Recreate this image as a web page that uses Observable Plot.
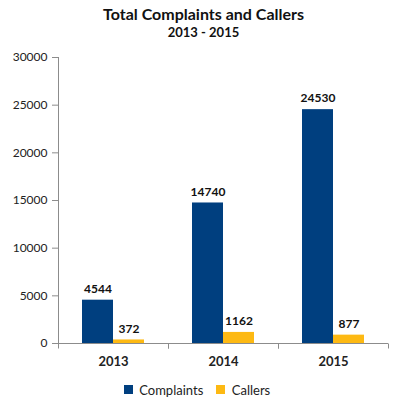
<!DOCTYPE html>
<html>
<head>
<meta charset="utf-8">
<script src="https://cdn.jsdelivr.net/npm/d3@7"></script>
<script src="https://cdn.jsdelivr.net/npm/@observablehq/plot@0.6"></script>
<style>
  body { margin: 0; background: #fff; font-family: Lato, "Open Sans", sans-serif; width: 407px; }
  #title { padding-top: 5px; text-align: center; font-weight: bold; font-size: 16px; line-height: 18px; color: #111; }
  #subtitle { text-align: center; font-weight: bold; font-size: 13px; line-height: 18px; color: #111; margin-bottom: 3px; }
  #legend { display: flex; justify-content: center; margin-top: 0px; }
  #legend > * { margin: 0 !important; }
</style>
</head>
<body>
<div id="title">Total Complaints and Callers</div>
<div id="subtitle">2013 - 2015</div>
<div id="chart"></div>
<div id="legend"></div>
<script>
const years = ["2013", "2014", "2015"];
const series = ["Complaints", "Callers"];
const complaints = [4544, 14740, 24530];
const callers = [372, 1162, 877];
const colors = ["#003f7f", "#fdb913"];
const yTicks = [0, 5000, 10000, 15000, 20000, 25000, 30000];

const data = years.flatMap((y, i) => [
  {year: y, series: series[0], value: complaints[i]},
  {year: y, series: series[1], value: callers[i]}
]);

const axisGray = "#8c8c8c";

const chart = Plot.plot({
  width: 407,
  height: 329,
  marginLeft: 57,
  marginRight: 18,
  marginTop: 13,
  marginBottom: 30,
  style: {fontFamily: "Lato, 'Open Sans', sans-serif", fontSize: "12px", color: "#222", overflow: "visible"},
  fx: {domain: years, padding: 0, label: null},
  x: {domain: series, paddingInner: 0, paddingOuter: 0.76, axis: null},
  y: {domain: [0, 30000], label: null},
  color: {domain: series, range: colors},
  marks: [
    Plot.frame({anchor: "left", facetAnchor: "left", stroke: axisGray}),
    Plot.ruleY([0], {
      stroke: axisGray,
      render: (index, scales, values, dims, ctx, next) => {
        const g = next(index, scales, values, dims, ctx);
        const y0 = scales.y(0);
        for (const xx of [dims.marginLeft, dims.width - dims.marginRight]) {
          const l = document.createElementNS("http://www.w3.org/2000/svg", "line");
          l.setAttribute("x1", xx + 0.5); l.setAttribute("x2", xx + 0.5);
          l.setAttribute("y1", y0); l.setAttribute("y2", y0 + 5);
          l.setAttribute("stroke", axisGray);
          g.appendChild(l);
        }
        return g;
      }
    }),
    Plot.barY(data, {fx: "year", x: "series", y: "value", fill: "series"}),
    Plot.text(data, {fx: "year", x: "series", y: "value", text: d => String(d.value), dy: -11, fontWeight: "bold", fontSize: 12, fill: "#111"}),
    Plot.axisY({ticks: yTicks, tickFormat: "d", tickSize: 6, tickPadding: 5, stroke: axisGray, fontSize: 12, label: null}),
    Plot.axisFx({anchor: "bottom", tickSize: 0, tickPadding: 13, fontWeight: "bold", fontSize: 13, label: null})
  ]
});
document.getElementById("chart").appendChild(chart);

const legend = chart.legend("color", {swatchSize: 9, style: {fontFamily: "Lato, 'Open Sans', sans-serif", fontSize: "13px", color: "#222"}});
document.getElementById("legend").appendChild(legend);
</script>
</body>
</html>
